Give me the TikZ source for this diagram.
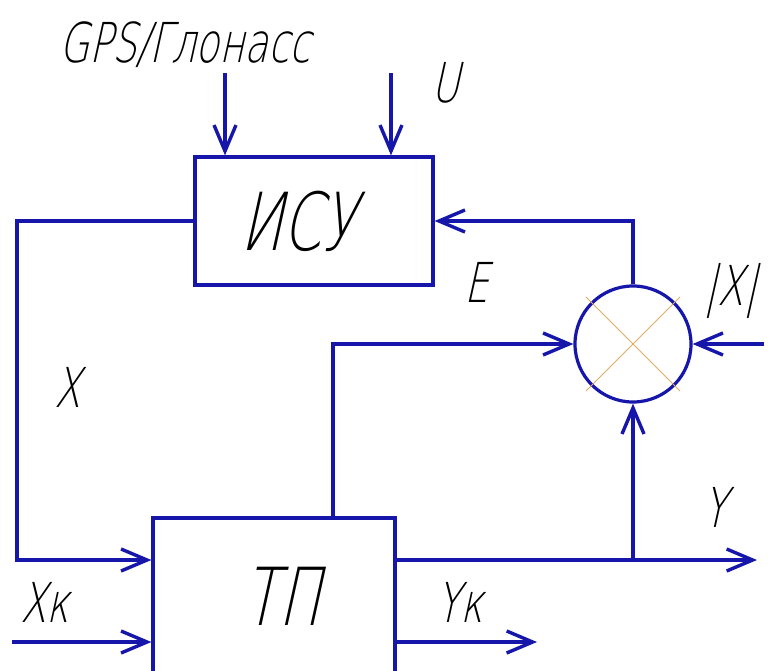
\documentclass[tikz,border=0pt]{standalone}
\usepackage{fontspec}
\usetikzlibrary{arrows.meta,calc}
\newfontfamily\gost[FakeSlant=0.22,FakeStretch=0.7]{DejaVu Sans ExtraLight}
\definecolor{lineblue}{RGB}{22,22,170}
\definecolor{crossc}{RGB}{222,172,100}
\begin{document}
\begin{tikzpicture}[x=1pt,y=-1pt,
  ln/.style={draw=lineblue,line width=3.2pt},
  arr/.style={ln,-{Straight Barb[length=26pt,width=22pt,line width=3.4pt]}},
  blk/.style={ln,rectangle,inner sep=0pt},
  lbl/.style={inner sep=0pt,font=\gost\fontsize{55}{60}\selectfont,text=black},
  big/.style={inner sep=0pt,font=\gost\fontsize{80}{86}\selectfont,text=black}]
\useasboundingbox (0,0) rectangle (768,670);
\clip (0,0) rectangle (768,670);
\fill[white] (0,0) rectangle (768,670);
% blocks
\node[blk,minimum width=238pt,minimum height=128pt] (isu) at (314,221) {};
\node[big] (isuT) at (298,221) {ИСУ};
\node[blk,minimum width=242pt,minimum height=200pt] (tp) at (274,618) {};
\node[big] (tpT) at (282,596) {ТП};
\node[ln,circle,minimum size=116pt,inner sep=0pt] (sum) at (633,344) {};
\draw[crossc,line width=1pt] ([shift={(-47,-47)}]sum.center) -- ([shift={(47,47)}]sum.center);
\draw[crossc,line width=1pt] ([shift={(-47,47)}]sum.center) -- ([shift={(47,-47)}]sum.center);
% coordinates
\coordinate (g) at (225,73);
\coordinate (u) at (391,73);
\coordinate (c1) at (17,221);
\coordinate (c2) at (17,560);
\coordinate (xk) at (12,642);
\coordinate (yj) at (633,560);
\coordinate (yend) at (757,560);
\coordinate (yk) at (537,642);
\coordinate (t1) at (333,344);
\coordinate (xin) at (764,344);
% connectors
\draw[arr] (g) -- (g |- isu.north);
\draw[arr] (u) -- (u |- isu.north);
\draw[arr] (isu.west) -- (c1) -- (c2) -- (c2 -| tp.west);
\draw[arr] (xk) -- (xk -| tp.west);
\draw[ln] (yj -| tp.east) -- (yj);
\draw[arr] (yj) -- (yend);
\draw[arr] (yj) -- (sum.south);
\draw[arr] (yk -| tp.east) -- (yk);
\draw[arr] (tp.north -| t1) -- (t1) -- (sum.west);
\draw[arr] (xin) -- (sum.east);
\draw[arr] (sum.north) -- (sum.north |- isu.east) -- (isu.east);
% labels
\node[lbl] (lg) at (185,45) {GPS/Глонасс};
\node[lbl] (lu) at (446,83) {U};
\node[lbl] (lx) at (68,387) {X};
\node[lbl] (le) at (477,282) {E};
\node[lbl] (lxx) at (731,291) {|X|};
\node[lbl] (ly) at (715,507) {Y};
\node[lbl] (lxk) at (45,602) {Xк};
\node[lbl] (lyk) at (460,602) {Yк};
\end{tikzpicture}
\end{document}
